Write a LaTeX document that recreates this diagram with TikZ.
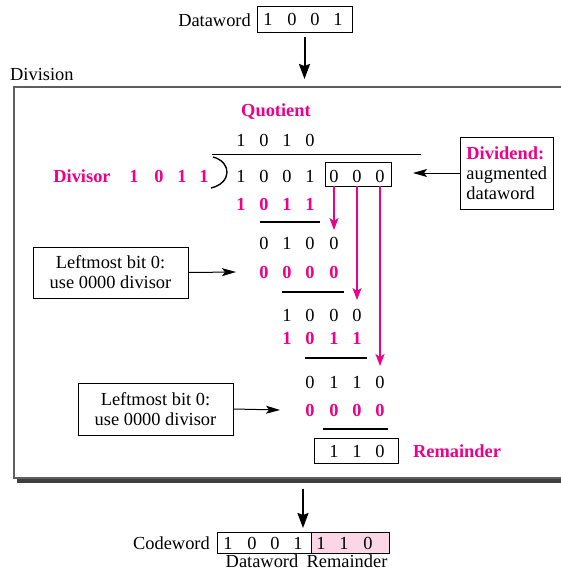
\documentclass[tikz,border=0pt]{standalone}
\usepackage{fontspec}
\setmainfont{Liberation Serif}
\usetikzlibrary{arrows.meta,shadows}
\definecolor{pk}{RGB}{236,0,140}
\definecolor{pkfill}{RGB}{250,214,230}
\definecolor{framec}{RGB}{95,95,95}
\begin{document}
\begin{tikzpicture}[x=1pt,y=-1pt,
  txt/.style={font=\fontsize{18.4}{20}\selectfont, inner sep=0pt, text=black},
  btxt/.style={font=\fontsize{18.4}{20}\selectfont\bfseries, inner sep=0pt, text=pk},
  box/.style={draw, line width=0.9pt, inner sep=0pt},
  note/.style={box, font=\fontsize{18.4}{20}\selectfont, align=center},
  arr/.style={line width=1pt, -{Stealth[length=14pt,width=8pt,inset=3pt]}},
  bigarr/.style={line width=2pt, -{Stealth[length=15pt,width=11pt,inset=2pt]}},
  parr/.style={draw=pk, line width=1.6pt, -{Stealth[length=12pt,width=9pt,inset=3pt]}},
  rulel/.style={line width=1.1pt},
]
\clip (0,0) rectangle (561,581);
\fill[white] (0,0) rectangle (561,581);

% top dataword
\node[txt, anchor=east] (dwlabel) at (251,20) {Dataword};
\node[box, minimum width=95pt, minimum height=26pt] (dwbox) at (304.5,19) {};
\foreach \v/\c [count=\i] in {1/268,0/292,0/315,1/338}
  \node[txt] (dw\i) at (\c,19.5) {\v};

% division frame
\node[txt, anchor=west] (divlabel) at (10,74) {Division};
\node[draw=framec, line width=1.5pt, fill=white, minimum width=600pt, minimum height=391pt,
      anchor=north west, inner sep=0pt,
      drop shadow={shadow xshift=3pt, shadow yshift=-5pt, fill=black!75, opacity=1}] (divbox) at (13,86) {};

\draw[bigarr] ([yshift=-5pt]dwbox.south) -- ([yshift=7pt]dwbox.south |- divbox.north);

% quotient
\node[btxt] (quot) at (276,112) {Quotient};
\foreach \v/\c [count=\i] in {1/241,0/264,1/287,0/310}
  \node[txt] (q\i) at (\c,140) {\v};

% division bar and bracket
\coordinate (barL) at (212,154.5);
\coordinate (barR) at (421,154.5);
\draw[line width=1.6pt] (barL) -- (barR);
\draw[line width=1.4pt] (213,157) .. controls (232,162) and (232,183) .. (211,188);

% divisor
\node[btxt] (divisor) at (82,176) {Divisor};
\foreach \v/\c [count=\i] in {1/134,0/159,1/182,1/204}
  \node[btxt] (dr\i) at (\c,176) {\v};

% dividend
\node[box, minimum width=66pt, minimum height=24pt] (zbox) at (358,174) {};
\foreach \v/\c [count=\i] in {1/241,0/264,0/287,1/310,0/334,0/357,0/380}
  \node[txt] (d\i) at (\c,176) {\v};

\node[box, font=\fontsize{18.4}{20}\selectfont, align=left, inner xsep=6pt,
      minimum height=72pt, anchor=west] (dvd) at (460,173)
      {\textcolor{pk}{\bfseries Dividend:}\\augmented\\dataword};
\coordinate (dvdtip) at (413,173);
\draw[arr] (dvd.west) -- (dvdtip);

% step 1
\foreach \v/\c [count=\i] in {1/241,0/264,1/287,1/310}
  \node[btxt] (ra\i) at (\c,204) {\v};
\draw[rulel] (260,222) -- (320,222);
\foreach \v/\c [count=\i] in {0/264,1/287,0/310,0/334}
  \node[txt] (a\i) at (\c,243) {\v};
\foreach \v/\c [count=\i] in {0/264,0/287,0/310,0/334}
  \node[btxt] (rb\i) at (\c,272) {\v};
\draw[rulel] (282,292) -- (344,292);

\node[note, minimum width=155pt, minimum height=51pt] (lm1) at (110.5,272.5)
  {Leftmost bit 0:\\use 0000 divisor};
\coordinate (lm1tip) at (236,272);
\draw[arr] (lm1.east) -- (lm1tip);

% step 2
\foreach \v/\c [count=\i] in {1/287,0/310,0/334,0/357}
  \node[txt] (b\i) at (\c,315) {\v};
\foreach \v/\c [count=\i] in {1/287,0/310,1/334,1/357}
  \node[btxt] (rc\i) at (\c,338) {\v};
\draw[rulel] (305,358) -- (367,358);

% step 3
\foreach \v/\c [count=\i] in {0/310,1/334,1/357,0/380}
  \node[txt] (c\i) at (\c,382) {\v};
\foreach \v/\c [count=\i] in {0/310,0/334,0/357,0/380}
  \node[btxt] (rd\i) at (\c,410) {\v};
\draw[rulel] (323,429) -- (388,429);

\node[note, minimum width=155pt, minimum height=52pt] (lm2) at (155.5,409)
  {Leftmost bit 0:\\use 0000 divisor};
\coordinate (lm2tip) at (280,410);
\draw[arr] (lm2.east) -- (lm2tip);

% remainder
\node[box, minimum width=84pt, minimum height=25pt] (rbox) at (356,450.5) {};
\foreach \v/\c [count=\i] in {1/334,1/357,0/380}
  \node[txt] (rm\i) at (\c,451) {\v};
\node[btxt] (remlabel) at (457,451) {Remainder};

% pink bring-down arrows
\coordinate (p1) at (334,230);
\coordinate (p2) at (357,300);
\coordinate (p3) at (380,366);
\draw[parr] (zbox.south -| d5) -- (p1);
\draw[parr] (zbox.south -| d6) -- (p2);
\draw[parr] (zbox.south -| d7) -- (p3);

% codeword
\node[box, minimum width=94pt, minimum height=21pt, anchor=north west] (cwd) at (217,532) {};
\node[box, fill=pkfill, minimum width=78pt, minimum height=21pt, anchor=north west] (cwr) at (311,532) {};
\node[txt, anchor=east] (cwlabel) at (210,543) {Codeword};
\foreach \v/\c [count=\i] in {1/228,0/252,0/275,1/298}
  \node[txt] (cw\i) at (\c,543) {\v};
\foreach \v/\c [count=\i] in {1/321,1/344,0/368}
  \node[txt] (cr\i) at (\c,543) {\v};
\node[txt] (dwsub) at (262,561) {Dataword};
\node[txt] (remsub) at (347,561) {Remainder};

\draw[bigarr] ([xshift=-1.5pt,yshift=-10pt]dwbox.south |- divbox.south) -- ([xshift=-1.5pt,yshift=4pt]dwbox.south |- cwd.north);
\end{tikzpicture}
\end{document}
